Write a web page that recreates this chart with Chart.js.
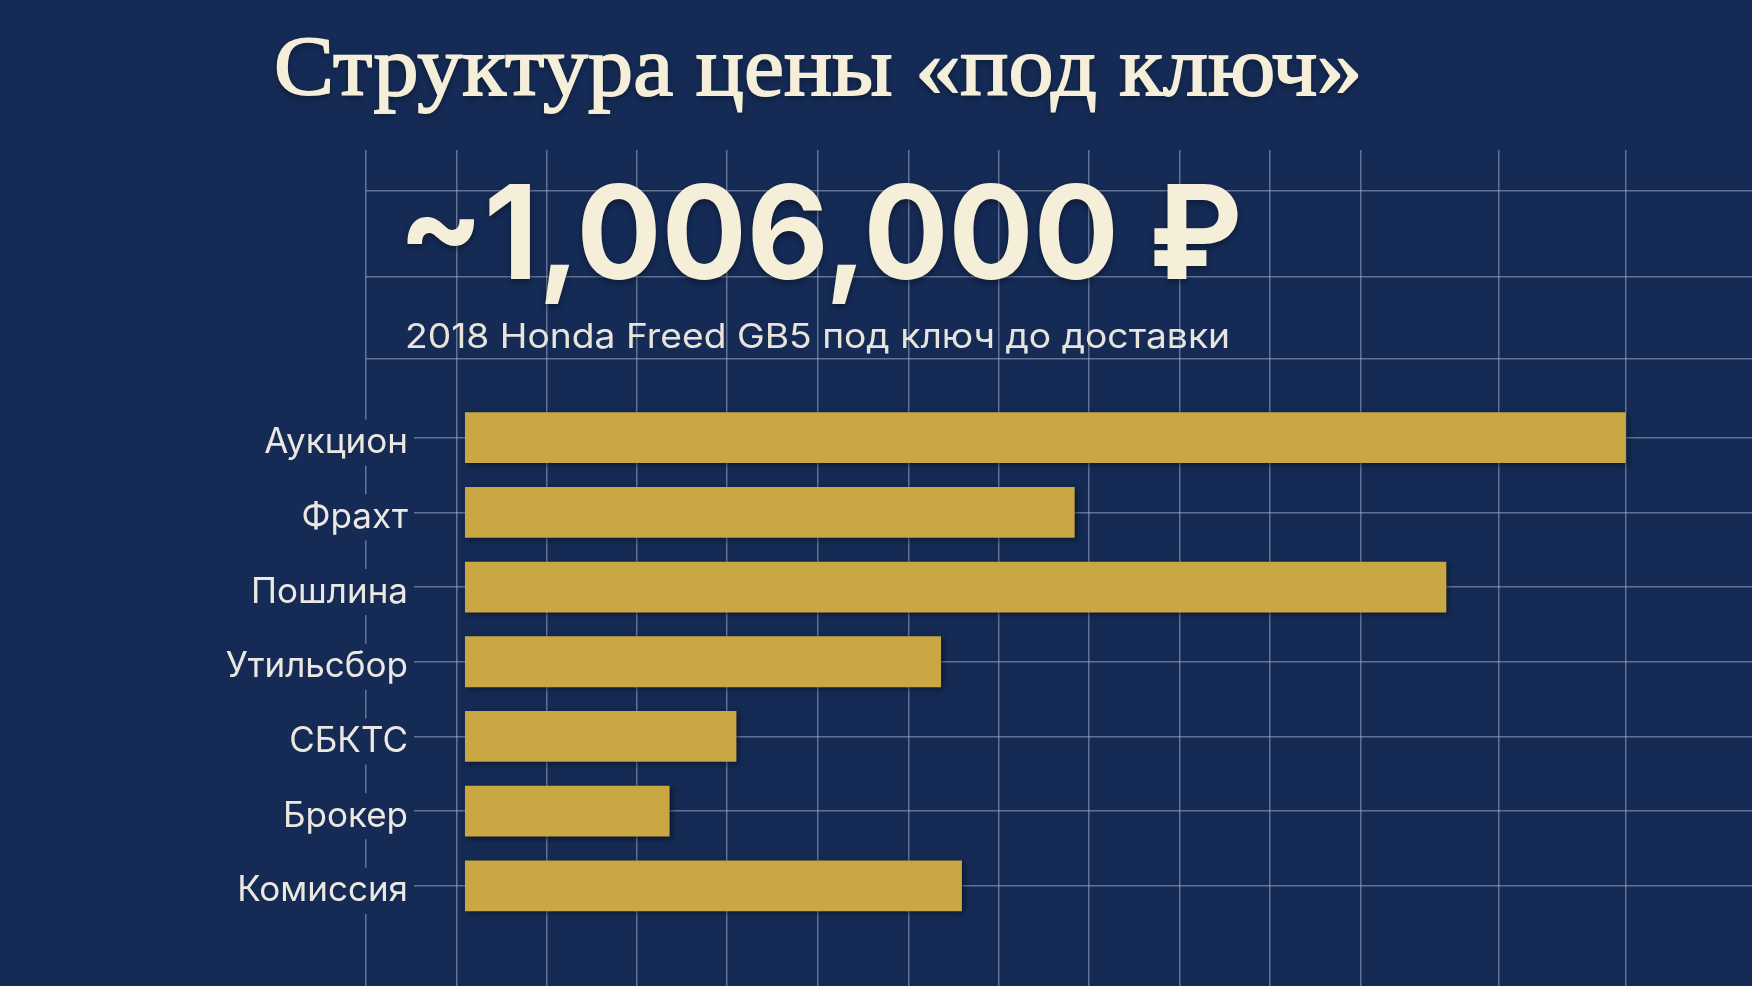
<!DOCTYPE html>
<html lang="ru">
<head>
<meta charset="utf-8">
<title>Структура цены «под ключ»</title>
<script src="https://cdn.jsdelivr.net/npm/chart.js@4/dist/chart.umd.min.js"></script>
<style>
  :root { --bg: #152b55; --cream: #f5eed9; }
  html, body { margin: 0; padding: 0; background: var(--bg); }
  #wrap { position: relative; width: 1752px; height: 986px; overflow: hidden; }
  #wrap canvas { position: absolute; left: 0; top: 0; }
  .txt { position: absolute; white-space: nowrap; line-height: 1; margin: 0; font-weight: 400; }
  #title {
    left: 274px; top: 24px;
    font-family: "Liberation Serif", serif; font-size: 85px;
    color: var(--cream);
    -webkit-text-stroke: 1.8px var(--cream);
    text-shadow: 0 3px 6px rgba(0,0,0,.45);
    transform-origin: left top;
  }
  #total {
    left: 398px; top: 153px;
    font: 700 130px Inter, sans-serif;
    color: var(--cream);
    text-shadow: 0 3px 6px rgba(0,0,0,.4);
    transform-origin: left top;
  }
  #sub {
    left: 405px; top: 315px;
    font: 400 34.5px Inter, sans-serif;
    color: #e7e4dc;
    transform-origin: left top;
  }
</style>
</head>
<body>
<div id="wrap">
  <canvas id="chart" width="1752" height="986"></canvas>
  <h1 class="txt" id="title">Структура цены «под ключ»</h1>
  <div class="txt" id="total">~1,006,000 ₽</div>
  <div class="txt" id="sub">2018 Honda Freed GB5 под ключ до доставки</div>
</div>
<script>
// ── Данные ─────────────────────────────────────────────────────────────────
const categories = ['Аукцион', 'Фрахт', 'Пошлина', 'Утильсбор', 'СБКТС', 'Брокер', 'Комиссия'];
const values     = [278000, 146000, 235000, 114000, 65000, 49000, 119000];   // ₽

// линии сетки (значения по осям, как на исходнике — шаг неровный)
const gridX = [-23700, -1900, 19600, 41200, 62700, 84500, 106300, 127900,
               149400, 171200, 192800, 214500, 247600, 278000];
const gridY = [-3.3, -2.15, -1.05, 0, 1, 2, 3, 4, 5, 6];

const BG    = '#152b55';
const GOLD  = '#c9a843';
const LINE  = 'rgba(175,190,210,0.5)';

// тень под полосами
const barShadow = {
  id: 'barShadow',
  beforeDatasetsDraw(chart) {
    const c = chart.ctx;
    c.save();
    c.shadowColor = 'rgba(0,0,0,0.5)';
    c.shadowBlur = 6;
    c.shadowOffsetX = 2;
    c.shadowOffsetY = 2;
  },
  afterDatasetsDraw(chart) { chart.ctx.restore(); },
};

new Chart(document.getElementById('chart'), {
  type: 'bar',
  data: {
    datasets: [{
      data: values.map((v, i) => ({ x: v, y: i })),
      backgroundColor: GOLD,
      borderWidth: 0,
      barPercentage: 0.85,
      categoryPercentage: 0.8,
    }],
  },
  plugins: [barShadow],
  options: {
    indexAxis: 'y',
    responsive: false,
    animation: false,
    layout: { padding: { top: 150, left: 0, right: 0, bottom: 0 } },
    plugins: { legend: { display: false }, tooltip: { enabled: false } },
    scales: {
      x: {
        type: 'linear',
        min: -23700, max: 308200,
        afterBuildTicks: s => { s.ticks = gridX.map(v => ({ value: v })); },
        afterFit: s => { s.height = 0; },
        ticks: { display: false },
        grid: { color: LINE, lineWidth: 1.5, drawTicks: false },
        border: { display: false },
      },
      y: {
        type: 'linear',
        reverse: true,
        offset: false,
        min: -3.85, max: 7.34,
        afterBuildTicks: s => { s.ticks = gridY.map(v => ({ value: v })); },
        afterFit: s => {
          s.width = 366;
          s._computeLabelArea = () => undefined;   // подписи заходят в область графика
        },
        ticks: {
          autoSkip: false,
          padding: -42,
          labelOffset: 5,
          color: '#ebe8e1',
          font: { family: 'Inter', size: 35 },
          callback: v => (Number.isInteger(v) && categories[v]) || '',
          showLabelBackdrop: true,
          backdropPadding: { left: 6, right: 6, top: 2, bottom: 2 },
          backdropColor: c => (c.tick && c.tick.label ? BG : 'rgba(0,0,0,0)'),
        },
        grid: { color: LINE, lineWidth: 1.5, drawTicks: false, offset: false },
        border: { display: false },
      },
    },
  },
});

// подгоняем ширину заголовков под исходник
const fitWidth = { title: 1088, total: 844, sub: 825 };
Object.entries(fitWidth).forEach(([id, w]) => {
  const el = document.getElementById(id);
  const k = w / el.getBoundingClientRect().width;
  el.style.transform = `scaleX(${k.toFixed(3)})`;
});
</script>
</body>
</html>
